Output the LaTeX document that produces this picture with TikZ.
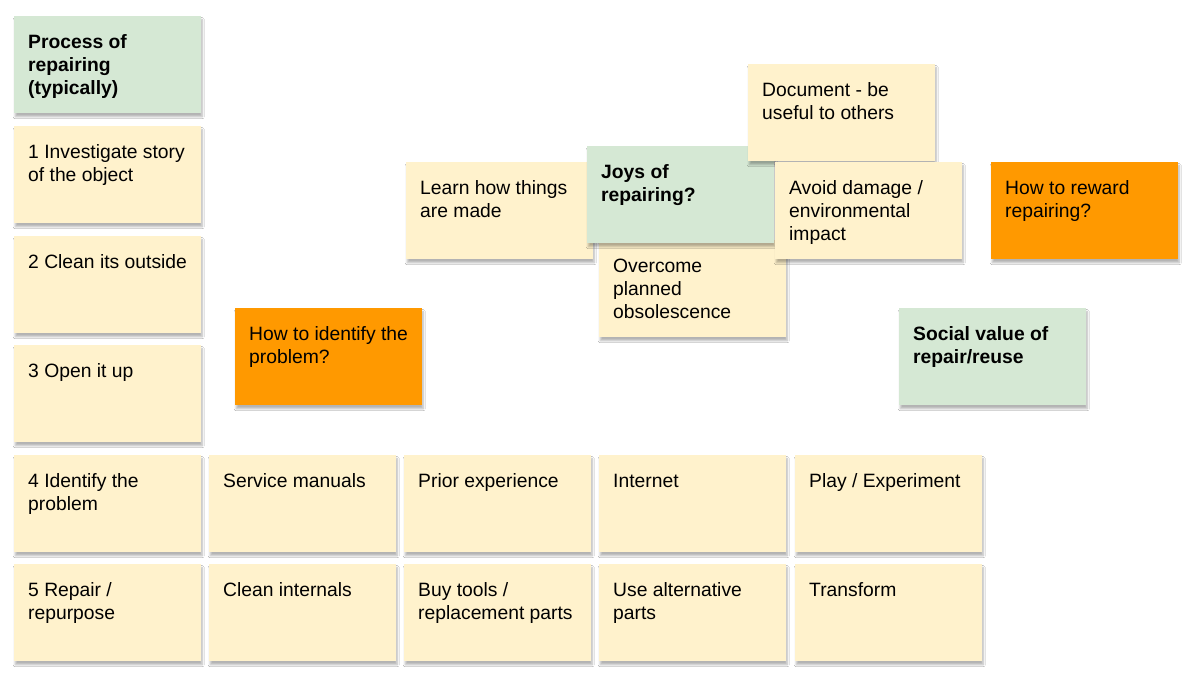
\documentclass[tikz,border=0pt]{standalone}
\usepackage{fontspec}
\setmainfont{Liberation Sans}
\usetikzlibrary{shadows.blur}
\definecolor{noteY}{HTML}{FFF2CC}
\definecolor{noteG}{HTML}{D5E8D4}
\definecolor{noteO}{HTML}{FF9900}
\tikzset{
  notebox/.style={draw=none, minimum width=187pt, minimum height=97pt, inner sep=0pt, anchor=north west,
    blur shadow={shadow xshift=1pt, shadow yshift=-3.5pt, shadow blur radius=2pt, shadow blur steps=8, shadow opacity=30}},
  yel/.style={notebox, fill=noteY},
  grn/.style={notebox, fill=noteG},
  org/.style={notebox, fill=noteO},
  txt/.style={inner sep=0pt, anchor=north west, align=left, font=\fontsize{19.3}{23}\selectfont, text=black},
  btxt/.style={txt, font=\fontsize{19.3}{23}\selectfont\bfseries}
}
\newcommand{\stickynote}[6]{%
  \node[#4] (#1) at (#2,#3) {};
  \node[#5] (#1t) at ([xshift=14pt,yshift=-17pt]#1.north west) {\rule{0pt}{15pt}#6};
}
\begin{document}
\begin{tikzpicture}[x=1pt,y=-1pt]
\path[use as bounding box, fill=white] (0,0) rectangle (1199,680);
\stickynote{proc}{14}{16}{grn}{btxt}{Process of\\repairing\\(typically)}
\stickynote{s1}{14}{126}{yel}{txt}{1 Investigate story\\of the object}
\stickynote{s2}{14}{236}{yel}{txt}{2 Clean its outside}
\stickynote{s3}{14}{345}{yel}{txt}{3 Open it up}
\stickynote{s4}{14}{455}{yel}{txt}{4 Identify the\\problem}
\stickynote{s5}{14}{564}{yel}{txt}{5 Repair /\\repurpose}
\stickynote{serv}{209}{455}{yel}{txt}{Service manuals}
\stickynote{prior}{404}{455}{yel}{txt}{Prior experience}
\stickynote{inet}{599}{455}{yel}{txt}{Internet}
\stickynote{play}{795}{455}{yel}{txt}{Play / Experiment}
\stickynote{cint}{209}{564}{yel}{txt}{Clean internals}
\stickynote{buy}{404}{564}{yel}{txt}{Buy tools /\\replacement parts}
\stickynote{alt}{599}{564}{yel}{txt}{Use alternative\\parts}
\stickynote{trans}{795}{564}{yel}{txt}{Transform}
\stickynote{ident}{235}{308}{org}{txt}{How to identify the\\problem?}
\stickynote{learn}{406}{162}{yel}{txt}{Learn how things\\are made}
\stickynote{over}{599}{240}{yel}{txt}{Overcome\\planned\\obsolescence}
\stickynote{joys}{587}{146}{grn}{btxt}{Joys of\\repairing?}
\stickynote{doc}{748}{64}{yel}{txt}{Document - be\\useful to others}
\stickynote{avoid}{775}{162}{yel}{txt}{Avoid damage /\\environmental\\impact}
\stickynote{reward}{991}{162}{org}{txt}{How to reward\\repairing?}
\stickynote{social}{899}{308}{grn}{btxt}{Social value of\\repair/reuse}
\end{tikzpicture}
\end{document}
